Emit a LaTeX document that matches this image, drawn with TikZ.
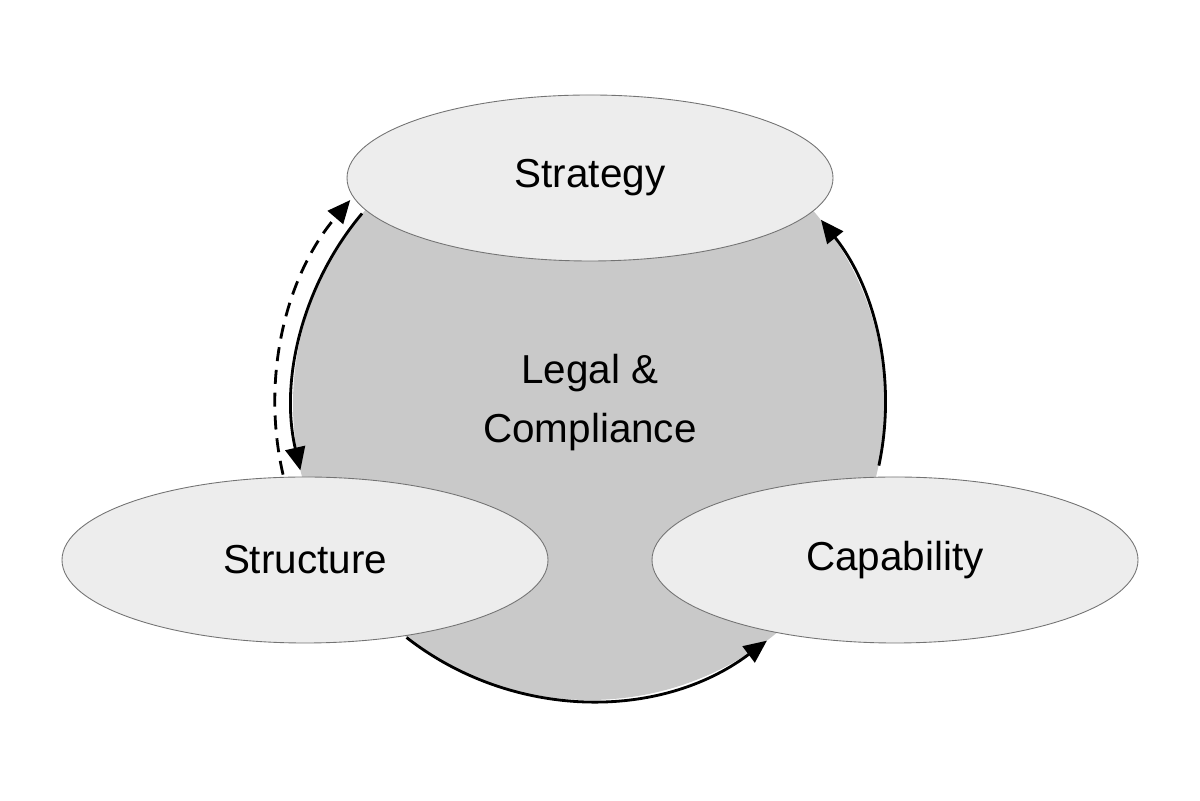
\documentclass[tikz,border=0pt]{standalone}
\usepackage{fontspec}
\setmainfont{Liberation Sans}
\usetikzlibrary{shapes.geometric,arrows.meta}
\begin{document}
\begin{tikzpicture}[
    pillar/.style={ellipse, draw=black!55, line width=0.5pt, fill=black!7,
      minimum width=9.72cm, minimum height=3.32cm, inner sep=0pt,
      font=\fontsize{23}{28}\selectfont},
    flow/.style={line width=1.6pt, -{Triangle[length=0.46cm,width=0.4cm]}},
  ]
  \def\r{5.92}

  \useasboundingbox (0,0) rectangle (24,16);

  \node[circle, fill=black!21, minimum size=2*\r cm, inner sep=0pt] (core) at (11.78,7.92) {};
  \node[align=center, font=\fontsize{23}{34}\selectfont] (legal) at (11.8,7.95) {Legal \&\\Compliance};

  \node[pillar] (strategy) at (11.8,12.44) {Strategy};
  \node[pillar] (structure) at (6.1,4.8) {Structure};
  \node[pillar] (capability) at (17.9,4.8) {Capability};

  % arcs on the rim
  \draw[flow] (core.140) arc[start angle=140, end angle=193, radius=\r];
  \draw[flow] (core.-12) arc[start angle=-12, end angle=38.5, radius=\r];
  \draw[flow] (core.232) arc[start angle=232, end angle=307, radius=\r];

  % dashed feedback
  \draw[flow, dashed, dash pattern=on 8pt off 5pt] (core.center) ++(193:6.28) coordinate (fb)
    arc[start angle=193, end angle=139.5, radius=6.28];
\end{tikzpicture}
\end{document}
